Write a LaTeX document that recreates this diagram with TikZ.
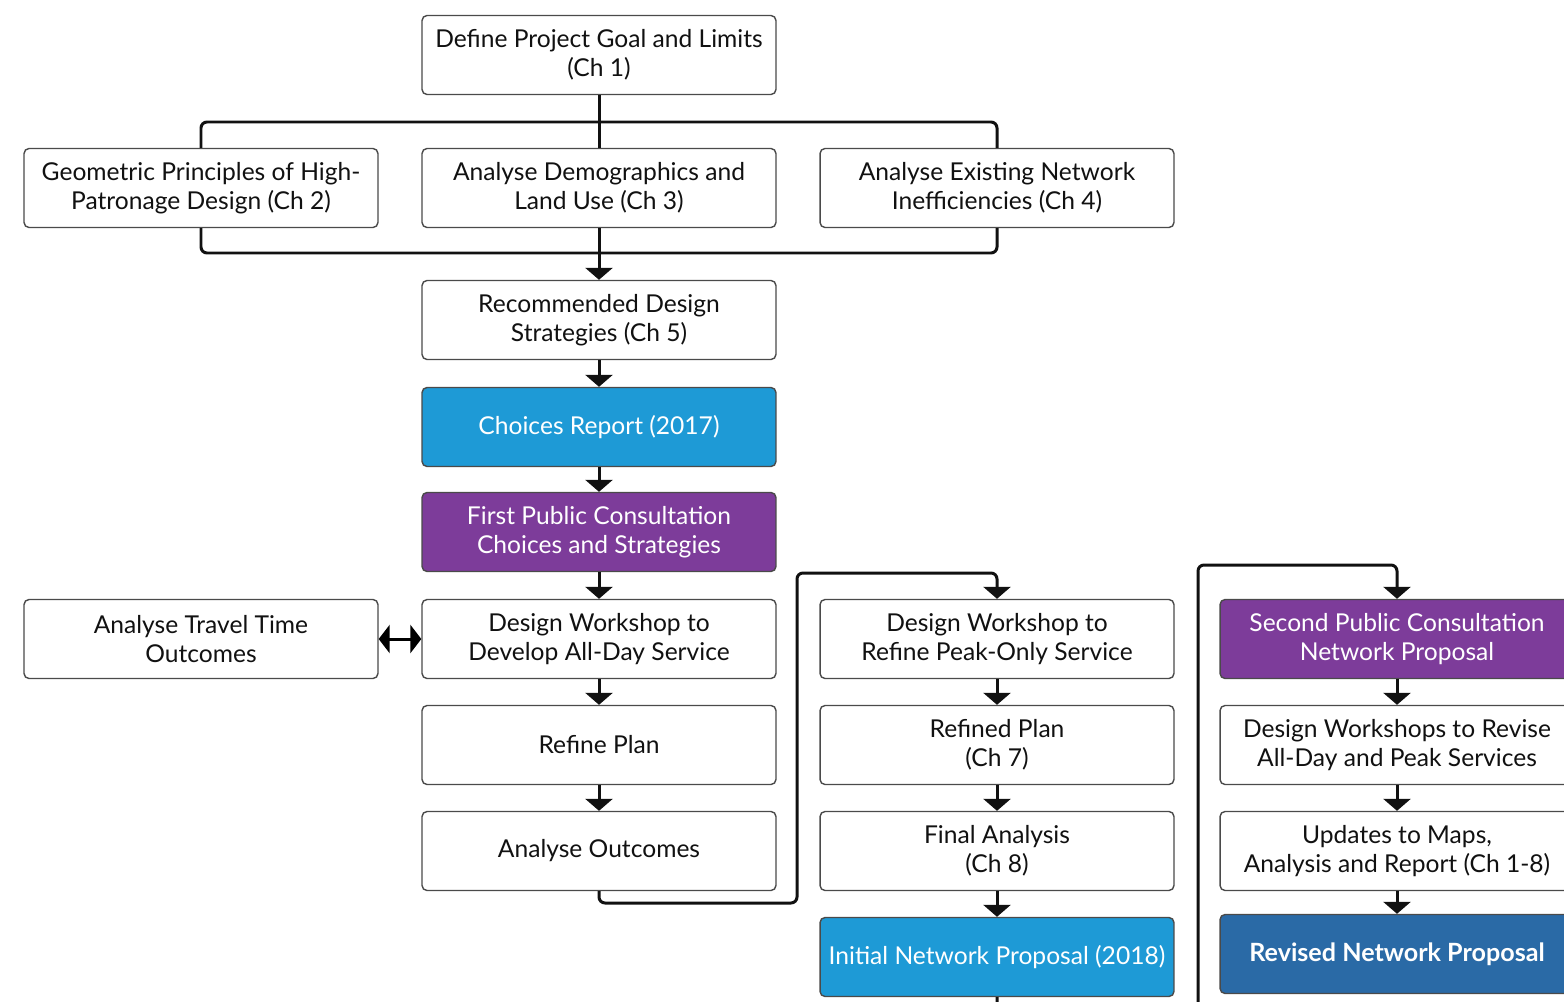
\documentclass[tikz,border=0pt]{standalone}
\usepackage{fontspec}
\setmainfont{Lato}
\usepackage{xcolor}
\usetikzlibrary{arrows.meta,positioning}
\definecolor{ink}{HTML}{111111}
\definecolor{edge}{HTML}{4A4A4A}
\definecolor{reportblue}{HTML}{1E9AD6}
\definecolor{consultpurple}{HTML}{7D3C9A}
\definecolor{finalblue}{HTML}{2A6AA6}
\tikzset{
  >={Triangle[length=2.4mm,width=5.4mm]},
  stage/.style={draw=edge,rounded corners=1mm,fill=white,line width=.8pt,
    minimum width=7.08cm,minimum height=1.58cm,align=center,text=ink,
    font=\fontsize{14}{16.5}\selectfont},
  report/.style={stage,fill=reportblue,text=white},
  consult/.style={stage,fill=consultpurple,text=white},
  revised/.style={stage,fill=finalblue,text=white,font=\fontsize{14.3}{16.5}\selectfont\bfseries},
  flow/.style={->,line width=1.7pt,color=ink},
  link/.style={line width=1.7pt,color=ink,rounded corners=1.2mm},
}
\begin{document}
\begin{tikzpicture}[x=0.02cm,y=-0.02cm]
  \useasboundingbox (0,0) rectangle (1564,1001);

  \node[stage] (goal) at (599,55) {Define Project Goal and Limits\\(Ch 1)};
  \node[stage] (geo) at (201,188) {Geometric Principles of High-\\Patronage Design (Ch 2)};
  \node[stage] (demo) at (599,188) {Analyse Demographics and\\Land Use (Ch 3)};
  \node[stage] (net) at (997,188) {Analyse Existing Network\\Inefficiencies (Ch 4)};
  \node[stage] (rec) at (599,320) {Recommended Design\\Strategies (Ch 5)};
  \node[report] (choices) at (599,427) {Choices Report (2017)};
  \node[consult] (first) at (599,532) {First Public Consultation\\Choices and Strategies};

  \node[stage] (travel) at (201,639) {Analyse Travel Time\\Outcomes};
  \node[stage] (dev) at (599,639) {Design Workshop to\\Develop All-Day Service};
  \node[stage] (refine) at (599,745) {Refine Plan};
  \node[stage] (outc) at (599,851) {Analyse Outcomes};

  \node[stage] (peak) at (997,639) {Design Workshop to\\Refine Peak-Only Service};
  \node[stage] (refined) at (997,745) {Refined Plan\\(Ch 7)};
  \node[stage] (final) at (997,851) {Final Analysis\\(Ch 8)};
  \node[report] (initial) at (997,957) {Initial Network Proposal (2018)};

  \node[consult] (second) at (1397,639) {Second Public Consultation\\Network Proposal};
  \node[stage] (revise) at (1397,745) {Design Workshops to Revise\\All-Day and Peak Services};
  \node[stage] (updates) at (1397,851) {Updates to Maps,\\Analysis and Report (Ch 1-8)};
  \node[revised] (final2) at (1397,954) {Revised Network Proposal};

  \draw[link] (goal.south) -- (demo.north);
  \draw[link] (geo.north) |- (599,122) -| (net.north);
  \draw[link] (geo.south) |- (599,253) -| (net.south);
  \draw[flow] (demo.south) -- (rec.north);
  \draw[flow] (rec) -- (choices);
  \draw[flow] (choices) -- (first);
  \draw[flow] (first) -- (dev);
  \draw[<->,line width=1.7pt,>={Triangle[length=2.2mm,width=5.6mm]}] (travel) -- (dev);
  \draw[flow] (dev) -- (refine);
  \draw[flow] (refine) -- (outc);
  \draw[flow,rounded corners=1.2mm] (outc.south) -- (599,903) -- (797,903) -- (797,573) -- (997,573) -- (peak.north);
  \draw[flow] (peak) -- (refined);
  \draw[flow] (refined) -- (final);
  \draw[flow] (final) -- (initial);
  \draw[flow,rounded corners=1.2mm] (initial.south) -- (997,1030) -- (1198,1030) -- (1198,565) -- (1397,565) -- (second.north);
  \draw[flow] (second) -- (revise);
  \draw[flow] (revise) -- (updates);
  \draw[flow] (updates) -- (final2);
\end{tikzpicture}
\end{document}
